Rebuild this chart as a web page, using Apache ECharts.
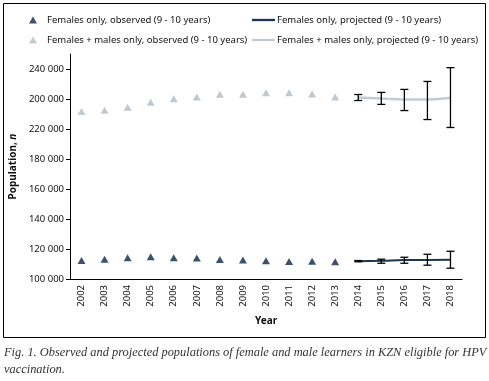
<!DOCTYPE html>
<html>
<head>
<meta charset="utf-8">
<script src="https://cdn.jsdelivr.net/npm/echarts@6/dist/echarts.min.js"></script>
<style>
  html, body { margin: 0; padding: 0; background: #fff; }
  #chart { width: 489px; height: 381px; }
</style>
</head>
<body>
<div id="chart"></div>
<script>
const years = ["2002", "2003", "2004", "2005", "2006", "2007", "2008", "2009", "2010",
  "2011", "2012", "2013", "2014", "2015", "2016", "2017", "2018"];

// observed 2002-2013
const femalesObserved = [112300, 113200, 114100, 114800, 114100, 114000, 113000, 112700,
  112100, 111700, 111900, 111500];
const totalObserved = [211700, 212500, 214500, 217900, 220100, 221400, 223200, 223200,
  224100, 224100, 223400, 221400];

// projected 2014-2018 with error ranges
const femalesProjected = [111900, 112200, 112600, 112700, 112900];
const femalesLow = [111500, 110500, 110500, 109200, 107200];
const femalesHigh = [112300, 113200, 114500, 116500, 118500];
const totalProjected = [221000, 220300, 219700, 219700, 220800];
const totalLow = [219000, 216400, 212300, 206300, 201000];
const totalHigh = [223000, 224400, 226400, 231700, 240900];

const yTicks = [100000, 120000, 140000, 160000, 180000, 200000, 220000, 240000];
const yTickLabels = ["100 000", "120 000", "140 000", "160 000", "180 000", "220 000", "200 000", "240 000"];

const names = {
  fObs: "Females only, observed (9 - 10 years)",
  tObs: "Females + males only, observed (9 - 10 years)",
  fProj: "Females only, projected (9 - 10 years)",
  tProj: "Females + males only, projected (9 - 10 years)",
};

const offset = femalesObserved.length;
const pad = (arr) => new Array(offset).fill(null).concat(arr);
const errData = (low, high) => low.map((v, i) => [offset + i, v, high[i]]);

function renderError(params, api) {
  const x = api.value(0);
  const lo = api.coord([x, api.value(1)]);
  const hi = api.coord([x, api.value(2)]);
  const w = 4;
  const style = { stroke: "#000", lineWidth: 1.3 };
  return {
    type: "group",
    children: [
      { type: "line", shape: { x1: lo[0], y1: lo[1], x2: hi[0], y2: hi[1] }, style },
      { type: "line", shape: { x1: lo[0] - w, y1: lo[1], x2: lo[0] + w, y2: lo[1] }, style },
      { type: "line", shape: { x1: hi[0] - w, y1: hi[1], x2: hi[0] + w, y2: hi[1] }, style },
    ],
  };
}

const chart = echarts.init(document.getElementById("chart"));
const font = "Noto Sans";
const lineIcon = "path://M0,0H24V2.4H0Z";

const option = {
  animation: false,
  backgroundColor: "#fff",
  textStyle: { fontFamily: font },
  graphic: [
    {
      type: "rect",
      shape: { x: 3.5, y: 3.5, width: 482, height: 334 },
      style: { fill: "none", stroke: "#000", lineWidth: 1 },
    },
    {
      type: "text",
      left: 4,
      top: 344,
      style: {
        text: "Fig. 1. Observed and projected populations of female and male learners in KZN eligible for HPV\nvaccination.",
        font: "italic 12.4px 'Liberation Serif'",
        fill: "#333",
        lineHeight: 17,
      },
    },
  ],
  legend: [
    {
      orient: "vertical",
      left: 24,
      top: 10,
      itemGap: 10,
      itemWidth: 8,
      itemHeight: 7,
      textStyle: { fontFamily: font, fontSize: 9.5, color: "#111", padding: [0, 0, 0, 5] },
      data: [{ name: names.fObs, icon: "triangle" }, { name: names.tObs, icon: "triangle" }],
    },
    {
      orient: "vertical",
      left: 247,
      top: 10,
      itemGap: 10,
      itemWidth: 23,
      itemHeight: 7,
      textStyle: { fontFamily: font, fontSize: 9.5, color: "#111", padding: [0, 0, 0, -3] },
      data: [{ name: names.fProj, icon: lineIcon }, { name: names.tProj, icon: lineIcon }],
    },
  ],
  grid: { left: 68, right: 27, top: 54, bottom: 102 },
  xAxis: {
    type: "category",
    data: years,
    boundaryGap: true,
    name: "Year",
    nameLocation: "middle",
    nameGap: 37,
    nameTextStyle: { fontFamily: font, fontSize: 10, fontWeight: "bold", color: "#111" },
    axisLine: { lineStyle: { color: "#000", width: 1 } },
    axisTick: { length: 5, lineStyle: { color: "#000" } },
    axisLabel: { rotate: 90, fontSize: 9.5, color: "#111", margin: 6 },
    splitLine: { show: false },
  },
  yAxis: {
    type: "value",
    min: 100000,
    max: 250000,
    interval: 10000,
    name: "{b|Population, }{i|n}",
    nameLocation: "middle",
    nameGap: 52,
    nameRotate: 90,
    nameTextStyle: {
      rich: {
        b: { fontFamily: font, fontSize: 10, fontWeight: "bold", color: "#111" },
        i: { fontFamily: font, fontSize: 10, fontWeight: "bold", fontStyle: "italic", color: "#111" },
      },
    },
    axisLine: { show: true, lineStyle: { color: "#000", width: 1 } },
    axisTick: { show: true, length: 4, customValues: yTicks, lineStyle: { color: "#000" } },
    axisLabel: {
      fontSize: 9.5,
      color: "#111",
      margin: 6,
      customValues: yTicks,
      formatter: (v) => yTickLabels[yTicks.indexOf(v)] || "",
    },
    splitLine: { show: false },
  },
  series: [
    {
      name: names.tObs,
      type: "scatter",
      symbol: "triangle",
      symbolSize: [8, 7],
      itemStyle: { color: "#aebbc6" },
      data: totalObserved,
    },
    {
      name: names.fObs,
      type: "scatter",
      symbol: "triangle",
      symbolSize: [8, 7],
      itemStyle: { color: "#0b2747" },
      data: femalesObserved,
    },
    {
      name: names.tProj,
      type: "line",
      smooth: true,
      symbol: "none",
      lineStyle: { color: "#c3ccd4", width: 2.5 },
      itemStyle: { color: "#c3ccd4" },
      data: pad(totalProjected),
    },
    {
      name: names.fProj,
      type: "line",
      smooth: true,
      symbol: "none",
      lineStyle: { color: "#1c3550", width: 2 },
      itemStyle: { color: "#1c3550" },
      data: pad(femalesProjected),
    },
    {
      type: "custom",
      renderItem: renderError,
      encode: { x: 0, y: [1, 2] },
      data: errData(totalLow, totalHigh),
      z: 5,
    },
    {
      type: "custom",
      renderItem: renderError,
      encode: { x: 0, y: [1, 2] },
      data: errData(femalesLow, femalesHigh),
      z: 5,
    },
  ],
};

chart.setOption(option);
</script>
</body>
</html>
